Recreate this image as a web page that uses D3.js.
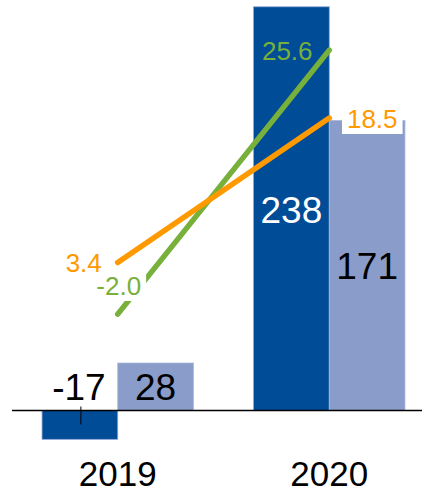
<!DOCTYPE html>
<html><head><meta charset="utf-8">
<script src="https://cdn.jsdelivr.net/npm/d3@7"></script>
<style>body{margin:0;background:#fff}svg{display:block}text{font-family:"Liberation Sans",Arial,sans-serif}</style>
</head><body>
<script>
const categories = ["2019", "2020"];
const seriesNames = ["A", "B"];
const barA = [-17, 238];
const barB = [28, 171];
const lineOrange = [3.4, 18.5];
const lineGreen = [-2.0, 25.6];
const labelsOrange = ["3.4", "18.5"];
const labelsGreen = ["-2.0", "25.6"];

const W = 422, H = 493;
const svg = d3.select("body").append("svg").attr("width", W).attr("height", H);

const x = d3.scaleBand().domain(categories).range([12, 435]).paddingInner(0.2844).paddingOuter(0.142);
const xs = d3.scaleBand().domain(seriesNames).range([0, x.bandwidth()]);
const y = d3.scaleLinear().domain([0, 242]).range([410.5, 0]);
const y2 = d3.scaleLinear().domain([0, 30.84]).range([295, 0]);

const colA = "#004C97", colB = "#8A9CC9", colG = "#77B03A", colO = "#FF9900";

const data = categories.map((c, i) => ({c, a: barA[i], b: barB[i]}));
const g = svg.append("g");
data.forEach(d => {
  [["A", d.a, colA], ["B", d.b, colB]].forEach(([s, v, col]) => {
    g.append("rect")
      .attr("x", x(d.c) + xs(s))
      .attr("width", xs.bandwidth())
      .attr("y", Math.min(y(0), y(v)))
      .attr("height", Math.abs(y(v) - y(0)))
      .attr("fill", col)
      .attr("stroke", s === "A" ? "#8fa6d4" : "#a9b8dc")
      .attr("stroke-width", 0.8);
  });
});

// axis line
svg.append("line").attr("x1", 12).attr("x2", W).attr("y1", y(0)).attr("y2", y(0))
  .attr("stroke", "#000").attr("stroke-width", 1.5);

// small tick under -17
const cx0 = x(categories[0]) + xs("A") + xs.bandwidth() / 2;
svg.append("line").attr("x1", cx0 + 1).attr("x2", cx0 + 1).attr("y1", y(0) - 4).attr("y2", y(0) + 14)
  .attr("stroke", "#000").attr("stroke-width", 1);

// category labels
svg.append("g").selectAll("text").data(categories).join("text")
  .attr("x", d => x(d) + x.bandwidth() / 2)
  .attr("y", 485.5).attr("text-anchor", "middle").attr("font-size", 35).attr("fill", "#000")
  .text(d => d);

// bar labels
const cx = (c, s) => x(c) + xs(s) + xs.bandwidth() / 2;
const fsBar = 37;
svg.append("text").attr("x", cx("2019", "A") - 1).attr("y", 400).attr("text-anchor", "middle")
  .attr("font-size", fsBar).attr("fill", "#000").text(barA[0]);
svg.append("text").attr("x", cx("2019", "B")).attr("y", 400).attr("text-anchor", "middle")
  .attr("font-size", fsBar).attr("fill", "#000").text(barB[0]);
svg.append("text").attr("x", cx("2020", "A")).attr("y", 222.5).attr("text-anchor", "middle")
  .attr("font-size", fsBar).attr("fill", "#fff").text(barA[1]);
svg.append("text").attr("x", cx("2020", "B")).attr("y", 279).attr("text-anchor", "middle")
  .attr("font-size", fsBar).attr("fill", "#000").text(barB[1]);

// lines
const lx = c => x(c) + x.bandwidth() / 2;
const line = d3.line().x((d, i) => lx(categories[i])).y(d => y2(d));
svg.append("path").attr("d", line(lineGreen)).attr("fill", "none").attr("stroke", colG)
  .attr("stroke-width", 5.5).attr("stroke-linecap", "round");
svg.append("path").attr("d", line(lineOrange)).attr("fill", "none").attr("stroke", colO)
  .attr("stroke-width", 5.5).attr("stroke-linecap", "round");

// line labels
function label(txt, px, py, col, bg) {
  const t = svg.append("text").attr("x", px).attr("y", py).attr("text-anchor", "middle")
    .attr("font-size", 26).attr("fill", col).text(txt);
  if (bg) {
    const b = t.node().getBBox();
    svg.insert("rect", () => t.node()).attr("x", b.x - 5).attr("y", b.y + 3).attr("width", b.width + 10)
      .attr("height", b.height - 3).attr("fill", "#fff");
  }
}
label(labelsOrange[0], lx("2019") - 34, 272, colO, false);
label(labelsGreen[0], lx("2019") + 1, 295, colG, true);
label(labelsGreen[1], lx("2020") - 42, 60, colG, false);
label(labelsOrange[1], lx("2020") + 43, 128, colO, true);
</script>
</body></html>
